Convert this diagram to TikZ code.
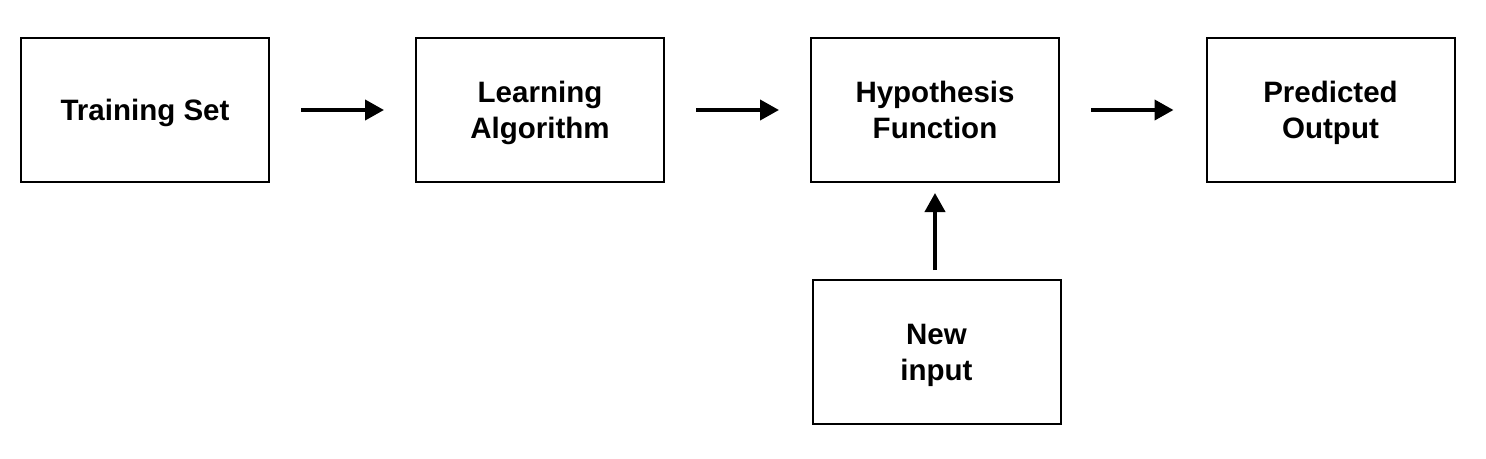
\documentclass[tikz,border=0pt]{standalone}
\usepackage{fontspec}
\setmainfont{Liberation Sans}
\usetikzlibrary{arrows.meta}
\newcommand\boxtxt[1]{\raisebox{-3.5pt}[\height][\depth]{\begin{tabular}{@{}c@{}}#1\end{tabular}}}
\begin{document}
\begin{tikzpicture}[x=1pt,y=-1pt,
  box/.style={draw=black, line width=2pt, minimum width=248pt, minimum height=144pt, inner sep=0pt, font=\fontsize{29.5}{35.5}\selectfont\bfseries},
  flow/.style={line width=4pt, -{Triangle[length=19pt,width=20pt]}, shorten >=0pt}]
\useasboundingbox (0,0) rectangle (1486,458);
\node[box] (ts) at (145,110) {\boxtxt{Training Set}};
\node[box] (la) at (540,110) {\boxtxt{Learning\\Algorithm}};
\node[box] (hf) at (935,110) {\boxtxt{Hypothesis\\Function}};
\node[box] (po) at (1330.5,110) {\boxtxt{Predicted\\Output}};
\node[box] (ni) at (936.5,352) {\boxtxt{New\\input}};
\draw[flow] ([xshift=31pt]ts.east) -- ([xshift=-31pt]la.west);
\draw[flow] ([xshift=31pt]la.east) -- ([xshift=-31pt]hf.west);
\draw[flow] ([xshift=31pt]hf.east) -- ([xshift=-32pt]po.west);
\draw[flow] (935,270) -- (935,193);
\end{tikzpicture}
\end{document}
